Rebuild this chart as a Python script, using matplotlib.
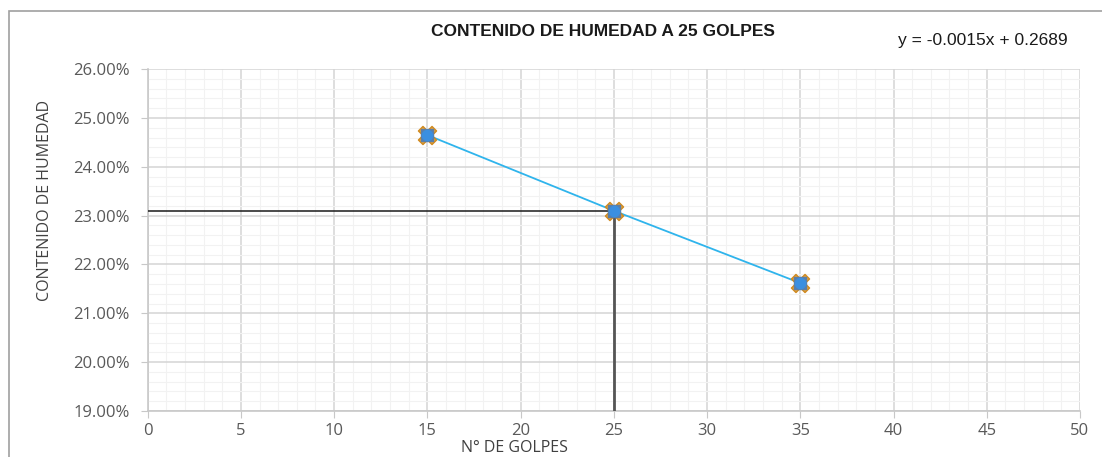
import matplotlib
matplotlib.use("Agg")
import matplotlib.pyplot as plt
from matplotlib.ticker import MultipleLocator, FuncFormatter
from matplotlib.patches import Rectangle

# datos
golpes = [15, 25, 35]
humedad = [0.2465, 0.2310, 0.2162]
golpes_ref = 25
humedad_ref = 0.2310
ecuacion = "y = -0.0015x + 0.2689"

plt.rcParams['font.family'] = ['Open Sans', 'DejaVu Sans']

fig = plt.figure(figsize=(11.02, 4.57), dpi=100)
ax = fig.add_axes([0.134, 0.1007, 0.846, 0.748])

# marco exterior del gráfico
fig.patches.append(Rectangle((0.008, -0.05), 1.2, 1.025, transform=fig.transFigure,
                             fill=False, edgecolor='#a0a0a0', linewidth=1.2))

ax.set_xlim(0, 50)
ax.set_ylim(0.19, 0.26)
ax.xaxis.set_major_locator(MultipleLocator(5))
ax.xaxis.set_minor_locator(MultipleLocator(1))
ax.yaxis.set_major_locator(MultipleLocator(0.01))
ax.yaxis.set_minor_locator(MultipleLocator(0.002))
ax.yaxis.set_major_formatter(FuncFormatter(lambda v, p: f"{v*100:.2f}%"))

ax.grid(which='major', color='#d4d4d4', linewidth=1.1)
ax.grid(which='minor', color='#f2f2f2', linewidth=0.8)
ax.set_axisbelow(True)

for s in ['top', 'right']:
    ax.spines[s].set_visible(False)
for s in ['left', 'bottom']:
    ax.spines[s].set_color('#c8c8c8')
    ax.spines[s].set_linewidth(1.2)

ax.tick_params(which='major', length=5, color='#c8c8c8', labelsize=12,
               labelcolor='#595959')
ax.tick_params(axis='y', pad=8)
ax.tick_params(axis='x', pad=4)
ax.tick_params(which='minor', length=0)

# líneas de referencia a 25 golpes
ax.plot([0, golpes_ref], [humedad_ref, humedad_ref], color='#1a1a1a', linewidth=1.1, zorder=3)
ax.plot([golpes_ref, golpes_ref], [0.19, humedad_ref], color='#555555', linewidth=2.0, zorder=3)

# serie
ax.plot(golpes, humedad, color='#2fb4ec', linewidth=1.3, zorder=4)
ax.scatter(golpes, humedad, marker='X', s=170, color='#e8a33a', edgecolor='#d08a20', zorder=5)
ax.scatter(golpes, humedad, marker='s', s=80, color='#5b7fa8', zorder=6)
ax.scatter(golpes, humedad, marker='o', s=55, color='#3b8fe0', zorder=7)

fig.text(0.547, 0.93, "CONTENIDO DE HUMEDAD A 25 GOLPES", ha='center', va='center',
         fontsize=12.5, fontweight='bold', family=['Liberation Sans', 'DejaVu Sans'], color='#1a1a1a')
fig.text(0.892, 0.912, ecuacion, ha='center', va='center', fontsize=12.5,
         family=['Liberation Sans', 'DejaVu Sans'], color='#1a1a1a')

fig.text(0.041, 0.562, "CONTENIDO DE HUMEDAD", rotation=90, ha='center', va='center',
         fontsize=11.5, color='#404040')
fig.text(0.467, 0.002, "N° DE GOLPES", ha='center', va='bottom',
         fontsize=11.5, color='#404040')

fig.savefig("out.png", dpi=100)
